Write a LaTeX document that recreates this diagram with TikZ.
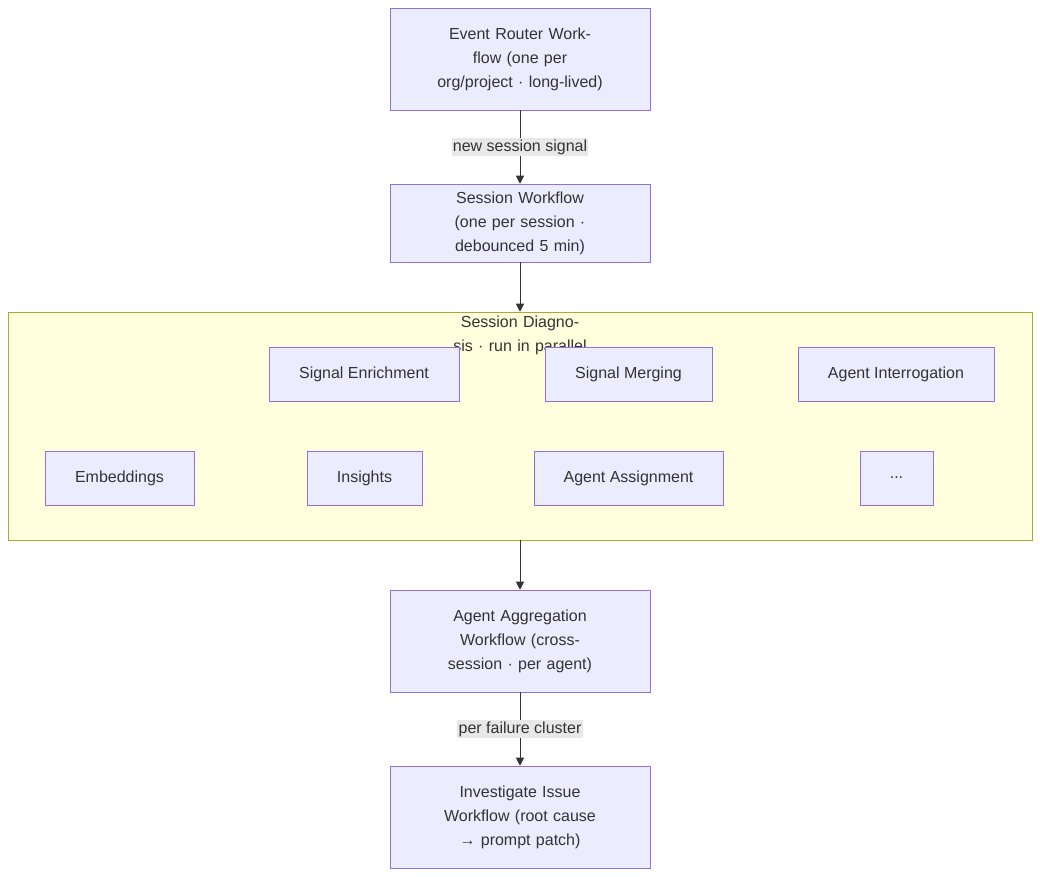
\documentclass[tikz,border=0pt]{standalone}
\usepackage{fontspec}
\setmainfont{Liberation Sans}
\usetikzlibrary{positioning, arrows.meta}
\definecolor{nodefill}{HTML}{ECECFF}
\definecolor{nodeline}{HTML}{9370DB}
\definecolor{clusterfill}{HTML}{FFFFDE}
\definecolor{clusterline}{HTML}{AAAA33}
\definecolor{labelfill}{HTML}{E8E8E8}
\definecolor{textcol}{HTML}{333333}
\tikzstyle{task} = [rectangle, draw=nodeline, fill=nodefill, text=textcol, align=center, minimum height=40.5pt, inner sep=0pt]
\tikzstyle{workflow} = [task, minimum width=195pt, text width=150pt]
\tikzstyle{edgelabel} = [fill=labelfill, text=textcol, inner sep=1pt]
\tikzstyle{arrow} = [draw=textcol, line width=0.75pt, -{Triangle[length=6pt,width=6pt]}]

\begin{document}
\begin{tikzpicture}[x=0.75pt, y=-0.75pt, font=\fontsize{12}{18}\selectfont]
\useasboundingbox (0,0) rectangle (1040,876);

% Main chain
\node (router) [workflow, minimum height=76.5pt] at (520,59) {Event Router Workflow (one per org/project · long-lived)};
\node (session) [workflow, minimum height=58.5pt] at (520,223) {Session Workflow (one per session · debounced 5 min)};

% Diagnosis cluster
\node (diag) [rectangle, draw=clusterline, fill=clusterfill, minimum width=768pt, minimum height=171pt] at (520,426) {};
\node (diagtitle) [text=textcol, align=center, text width=150pt] at (520,335) {Session Diagnosis · run in parallel};
\node (enrich) [task, minimum width=142.5pt] at (364,374) {Signal Enrichment};
\node (merge) [task, minimum width=125.25pt] at (628.5,374) {Signal Merging};
\node (interro) [task, minimum width=147pt] at (896,374) {Agent Interrogation};
\node (embed) [task, minimum width=111.75pt] at (119.5,478) {Embeddings};
\node (insights) [task, minimum width=86.25pt] at (364.5,478) {Insights};
\node (assign) [task, minimum width=141.75pt] at (628.5,478) {Agent Assignment};
\node (more) [task, minimum width=54.75pt] at (896.5,478) {...};

\node (aggr) [workflow, minimum height=76.5pt] at (520,641) {Agent Aggregation Workflow (cross-session · per agent)};
\node (invest) [workflow, minimum height=76.5pt] at (520,817) {Investigate Issue Workflow (root cause → prompt patch)};

% Arrows
\draw [arrow] (router) -- node [edgelabel] {new session signal} (session);
\draw [arrow] (session) -- (diag);
\draw [arrow] (diag) -- (aggr);
\draw [arrow] (aggr) -- node [edgelabel] {per failure cluster} (invest);

\end{tikzpicture}
\end{document}
